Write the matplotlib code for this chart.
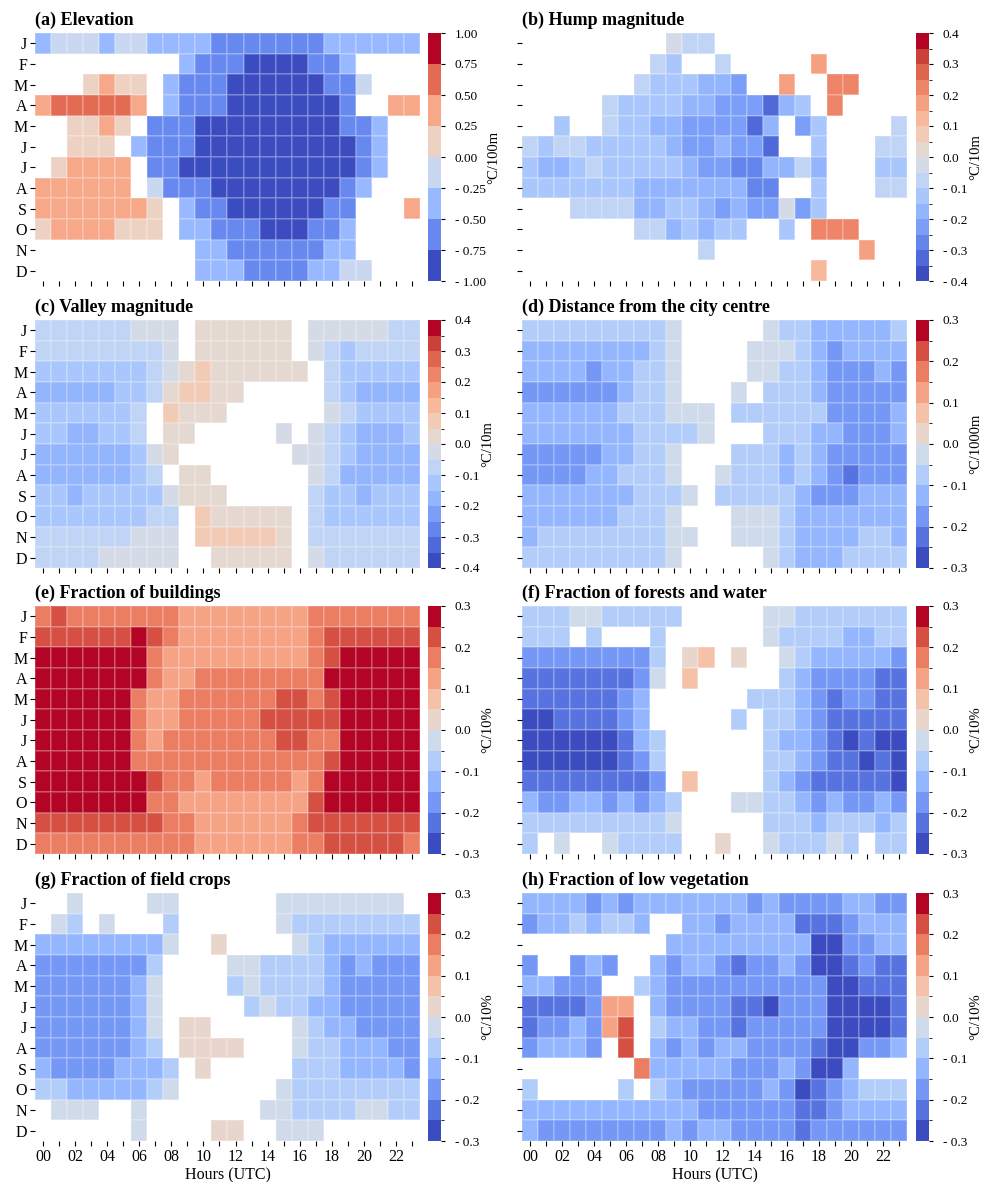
import numpy as np
import matplotlib
matplotlib.use("Agg")
import matplotlib.pyplot as plt
from matplotlib.colors import BoundaryNorm

plt.rcParams['font.family'] = ['Liberation Serif', 'DejaVu Serif']

months = ["J", "F", "M", "A", "M", "J", "J", "A", "S", "O", "N", "D"]
hour_labels = [f"{h:02d}" if h % 2 == 0 else "" for h in range(24)]

titles = ["(a) Elevation", "(b) Hump magnitude", "(c) Valley magnitude",
          "(d) Distance from the city centre", "(e) Fraction of buildings",
          "(f) Fraction of forests and water", "(g) Fraction of field crops",
          "(h) Fraction of low vegetation"]
units = ["°C/100m", "°C/10m", "°C/10m", "°C/1000m", "°C/10%", "°C/10%", "°C/10%", "°C/10%"]
vmins = [-1.0, -0.4, -0.4, -0.3, -0.3, -0.3, -0.3, -0.3]
steps = [0.25, 0.05, 0.05, 0.05, 0.05, 0.05, 0.05, 0.05]
nbins = [8, 16, 16, 12, 12, 12, 12, 12]
tick_steps = [0.25, 0.1, 0.1, 0.1, 0.1, 0.1, 0.1, 0.1]
tick_fmt = ["{:.2f}", "{:.1f}", "{:.1f}", "{:.1f}", "{:.1f}", "{:.1f}", "{:.1f}", "{:.1f}"]

# Colour-bin index per cell (hex digit, 0 = lowest bin), '.' = not significant
elevation = [
    "233323322221111111222222",
    ".........21110000112....",
    "...4544.2111000000113...",
    "5666665.211100000001..55",
    "..4454.111000000000112..",
    "..444.2111000000000012..",
    ".45555.110000000000012..",
    "555555.31110000000012...",
    "55555554.21100000011...5",
    "45555444.22111000112....",
    "..........2211111122....",
    "..........22211112233...",
]
hump = [
    ".........766............",
    "........65..6.....b.....",
    ".......6555443..b..cc...",
    ".....6555544333145.c....",
    "..5..65544333314.35....6",
    "6566555554334331..5...66",
    "5445655555433224464...55",
    "5555555444444422..5...66",
    "...6666445543433735.....",
    ".......6645455..5.ccc...",
    "...........6.........b..",
    "..................a.....",
]
valley = [
    "666666777.888888.7777766",
    "666666667.888888.7656666",
    "55555556789888888.655555",
    "4444455689988.....654444",
    "5555556.9888......765555",
    "5544556.88.....7.7654445",
    "444444578.......77654444",
    "44444456.88......7644444",
    "554555557888.....6554555",
    "555555566.988888.6555555",
    "666666777.999998.6666666",
    "666677777..88888.7666666",
]
distance = [
    "4444444445.....544333334",
    "3333333345....5554323333",
    "3333233445....5544322232",
    "2222223445...5.444322222",
    "333333444555.44444422223",
    "333333344445...444332223",
    "2222233445...44434322222",
    "2222334445..544434321222",
    "33333334445.444443222333",
    "3333334445...55543333333",
    "34444444455..55543333443",
    "4444444445.....543334444",
]
buildings = [
    "9a9999999888888889999999",
    "aaaaaaba9888888889aaaaaa",
    "bbbbbbb98888888889abbbbb",
    "bbbbbbb98899999999bbbbbb",
    "bbbbbb988999999aa9abbbbb",
    "bbbbbb98899999aaaaabbbbb",
    "bbbbbb989999999aa99bbbbb",
    "bbbbbb999999999999abbbbb",
    "bbbbbbba9989999989bbbbbb",
    "bbbbbbb9988888888abbbbbb",
    "aaaaaaaa998888889aaaaaaa",
    "999999999988888899aaaaa9",
]
forests = [
    "4445544444.....554444444",
    "444.4...4......544443344",
    "222222224.67.6..54333332",
    "111111125.7.....43222211",
    "11111123......4443212211",
    "00111123.....4.443211111",
    "000000134......433210100",
    "000000124......443211010",
    "111111112.7....432111110",
    "3223323234...55443232232",
    "4444444445.....444344434",
    "4.5..54444..6..544454.44",
]
crops = [
    "..5....55......55555555.",
    ".54.5...4......544444444",
    "333333335..6....54333333",
    "22222224....554444323222",
    "22222235....454444322222",
    "22222235.....45443322222",
    "22222235.66.....54332222",
    "22222234.6666...54433322",
    "322223334.6.....44433332",
    "443333345......544444444",
    ".555..5.......5544445544",
    "......5....66..555......",
]
lowveg = [
    "333323233333332322223322",
    "23343443..33233331112333",
    ".........333333333002233",
    "2..232..3233212232001211",
    "33222..43222222222200111",
    "1111288.3222211022200001",
    "122328a.4332212222200001",
    "23332.a.3232332222100223",
    ".......93333322232003...",
    "4.....4.4322222320123444",
    "333333333332222221123333",
    "322222222323322221222222",
]
panels = [elevation, hump, valley, distance, buildings, forests, crops, lowveg]


def decode(rows, vmin, step):
    arr = np.full((12, 24), np.nan)
    for r, row in enumerate(rows):
        assert len(row) == 24, (r, row, len(row))
        for c, ch in enumerate(row):
            if ch != '.':
                arr[r, c] = vmin + (int(ch, 16) + 0.5) * step
    return arr


W, H = 987, 1182
fig = plt.figure(figsize=(W / 100, H / 100), dpi=100)


def rect(x, y, w, h):
    return [x / W, 1 - (y + h) / H, w / W, h / H]


cols_x = [35, 522]
cb_x = [428, 916]
rows_y = [33, 320, 606, 893]
cmap = plt.get_cmap('coolwarm')

for k in range(8):
    r, c = divmod(k, 2)
    ax = fig.add_axes(rect(cols_x[c], rows_y[r], 385, 248))
    cax = fig.add_axes(rect(cb_x[c], rows_y[r], 13, 248))
    data = decode(panels[k], vmins[k], steps[k])
    levels = vmins[k] + steps[k] * np.arange(nbins[k] + 1)
    norm = BoundaryNorm(levels, cmap.N)
    mesh = ax.pcolormesh(np.arange(25), np.arange(13), np.ma.masked_invalid(data),
                         cmap=cmap, norm=norm, edgecolors=(1, 1, 1, 0.18), linewidth=0.3)
    ax.set_xlim(0, 24)
    ax.set_ylim(12, 0)
    for s in ax.spines.values():
        s.set_visible(False)
    ax.set_xticks(np.arange(24) + 0.5)
    ax.set_yticks(np.arange(12) + 0.5)
    ax.set_yticklabels(months if c == 0 else [])
    ax.set_xticklabels(hour_labels if r == 3 else [])
    ax.tick_params(axis='both', length=3.5, width=0.8, labelsize=11.5, pad=2)
    if r == 3:
        ax.set_xlabel("Hours (UTC)", fontsize=11.5, labelpad=2)
    ax.set_title(titles[k], loc='left', fontsize=13, fontweight='bold', pad=6)

    vmax = -vmins[k]
    nt = int(round(2 * vmax / tick_steps[k]))
    ticks = [vmins[k] + i * tick_steps[k] for i in range(nt + 1)]
    labels = []
    for t in ticks:
        if abs(t) < 1e-9:
            t = 0.0
        s = tick_fmt[k].format(abs(t))
        labels.append(("- " + s) if t < 0 else s)
    cb = fig.colorbar(mesh, cax=cax, ticks=ticks)
    cb.outline.set_visible(False)
    cb.set_ticklabels(labels)
    cb.ax.tick_params(labelsize=9.5, length=3, width=0.8, pad=7)
    cb.set_label(units[k], fontsize=10.5, labelpad=1)

fig.savefig("out.png", dpi=100)
